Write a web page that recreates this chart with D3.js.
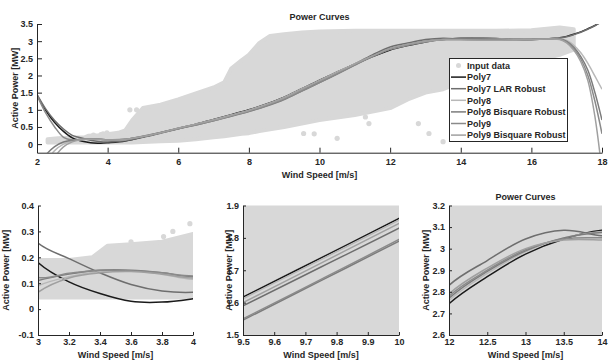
<!DOCTYPE html>
<html>
<head>
<meta charset="utf-8">
<script src="https://cdn.jsdelivr.net/npm/d3@7"></script>
<style>
  body { margin: 0; background: #fff; }
  svg text { font-family: "Liberation Sans", Arial, Helvetica, sans-serif; font-weight: bold; font-size: 9px; fill: #262626; }
</style>
</head>
<body>
<svg id="chart" width="609" height="361"></svg>
<script>
// wind speed grid the fitted curves are read at
const fitSpeed = [2, 2.25, 2.5, 2.75, 3, 3.2, 3.4, 3.6, 3.8, 4, 4.5, 5, 5.5, 6, 6.5, 7, 7.5, 8, 8.5, 9,
  9.5, 9.75, 10, 10.5, 11, 11.5, 12, 12.5, 13, 13.5, 14, 14.5, 15, 15.5, 16, 16.5, 16.8, 17, 17.2, 17.4, 17.6, 17.8, 18];

const poly7 = [1.43, 0.98, 0.63, 0.37, 0.18, 0.105, 0.06, 0.03, 0.027, 0.04, 0.09, 0.21, 0.33, 0.46, 0.58, 0.72, 0.86, 1.0, 1.17, 1.37,
  1.617, 1.738, 1.86, 2.1, 2.33, 2.55, 2.745, 2.87, 2.975, 3.045, 3.085, 3.09, 3.08, 3.06, 3.05, 3.07, 3.1, 3.14, 3.2, 3.27, 3.36, 3.46, 3.58];
const poly7Lar = [1.45, 1.02, 0.69, 0.44, 0.255, 0.195, 0.14, 0.095, 0.07, 0.065, 0.1, 0.2, 0.32, 0.45, 0.57, 0.7, 0.84, 0.98, 1.15, 1.35,
  1.59, 1.71, 1.83, 2.08, 2.34, 2.6, 2.83, 2.945, 3.045, 3.085, 3.06, 3.05, 3.05, 3.05, 3.05, 3.07, 3.09, 3.13, 3.19, 3.26, 3.35, 3.45, 3.57];
const poly8 = [-1.1, -0.55, -0.19, 0.0, 0.09, 0.125, 0.145, 0.148, 0.135, 0.115, 0.13, 0.23, 0.34, 0.46, 0.58, 0.71, 0.85, 0.99, 1.16, 1.36,
  1.612, 1.733, 1.855, 2.1, 2.34, 2.56, 2.76, 2.885, 2.985, 3.05, 3.08, 3.085, 3.075, 3.06, 3.05, 3.07, 3.08, 3.02, 2.88, 2.66, 2.35, 1.98, 1.6];
const poly8Bisq = [-0.75, -0.32, -0.07, 0.06, 0.11, 0.135, 0.15, 0.15, 0.14, 0.125, 0.14, 0.23, 0.34, 0.45, 0.56, 0.68, 0.81, 0.95, 1.11, 1.3,
  1.546, 1.668, 1.79, 2.04, 2.3, 2.55, 2.77, 2.895, 2.99, 3.05, 3.075, 3.07, 3.06, 3.05, 3.05, 3.07, 3.07, 2.99, 2.82, 2.55, 2.15, 1.5, 0.7];
const poly9 = [1.42, 0.9, 0.5, 0.2, 0.122, 0.138, 0.15, 0.148, 0.14, 0.128, 0.14, 0.22, 0.33, 0.45, 0.56, 0.68, 0.82, 0.96, 1.12, 1.31,
  1.55, 1.672, 1.795, 2.05, 2.31, 2.56, 2.78, 2.9, 2.995, 3.045, 3.05, 3.04, 3.03, 3.04, 3.05, 3.07, 3.06, 2.97, 2.78, 2.48, 2.0, 1.25, 0.3];
const poly9Bisq = [-1.5, -0.85, -0.38, -0.08, 0.065, 0.12, 0.14, 0.145, 0.135, 0.12, 0.135, 0.22, 0.33, 0.46, 0.58, 0.7, 0.84, 0.98, 1.15, 1.35,
  1.6, 1.722, 1.845, 2.09, 2.33, 2.57, 2.79, 2.91, 3.0, 3.04, 3.04, 3.03, 3.03, 3.04, 3.05, 3.06, 3.05, 2.95, 2.74, 2.4, 1.85, 0.8, -0.8];

// input data cloud: lower / upper edge of the dense scatter
const cloudSpeed = [2.3, 2.6, 3.0, 3.2, 3.35, 3.45, 3.6, 3.8, 4.0, 4.3, 4.5, 4.7, 5.0, 5.5, 6.0, 6.5, 7.0, 7.3, 7.5, 7.8,
  8.0, 8.3, 8.6, 9.0, 9.5, 10, 11, 12, 12.5, 13, 13.5, 14, 15, 16, 16.8, 17.2];
const cloudLow = [0.05, 0.045, 0.045, 0.045, 0.045, 0.045, 0.045, 0.045, 0.045, 0.045, 0.05, 0.05, 0.06, 0.08, 0.1, 0.14, 0.2, 0.23, 0.26, 0.3,
  0.32, 0.38, 0.43, 0.5, 0.6, 0.7, 0.85, 1.05, 1.3, 1.5, 1.6, 1.8, 2.1, 2.4, 2.6, 2.75];
const cloudHigh = [0.14, 0.17, 0.19, 0.19, 0.2, 0.245, 0.25, 0.26, 0.29, 0.33, 0.4, 0.7, 1.05, 1.15, 1.3, 1.48, 1.65, 1.8, 2.2, 2.45,
  2.6, 2.95, 3.15, 3.2, 3.25, 3.28, 3.3, 3.3, 3.3, 3.3, 3.3, 3.3, 3.3, 3.32, 3.4, 3.35];
// isolated points outside the cloud
const outlierSpeed = [4.63, 4.82, 9.55, 9.85, 10.5, 11.3, 11.4, 12.8, 13.1, 13.5, 3.81, 3.87, 3.98, 4.0, 3.6];
const outlierPower = [1.0, 1.0, 0.31, 0.3, 0.17, 0.79, 0.6, 0.6, 0.31, 0.07, 0.28, 0.3, 0.33, 0.255, 0.26];

const fitNames = ['Poly7', 'Poly7 LAR Robust', 'Poly8', 'Poly8 Bisquare Robust', 'Poly9', 'Poly9 Bisquare Robust'];
const fits = [poly7, poly7Lar, poly8, poly8Bisq, poly9, poly9Bisq];
const fitColors = ['#1a1a1a', '#6e6e6e', '#b8b8b8', '#7c7c7c', '#8a8a8a', '#a0a0a0'];
const dotColor = '#d8d8d8';
const axisColor = '#262626';

// tick labels for each panel
const mainXTicks = [2, 4, 6, 8, 10, 12, 14, 16, 18];
const mainYTicks = [0, 0.5, 1, 1.5, 2, 2.5, 3, 3.5];
const lowXTicks = [3, 3.2, 3.4, 3.6, 3.8, 4];
const lowYTicks = [-0.1, 0, 0.1, 0.2, 0.3, 0.4];
const midXTicks = [9.5, 9.6, 9.7, 9.8, 9.9, 10];
const midYTicks = [1.5, 1.6, 1.7, 1.8, 1.9];
const highXTicks = [12, 12.5, 13, 13.5, 14];
const highYTicks = [2.6, 2.7, 2.8, 2.9, 3, 3.1, 3.2];

const svg = d3.select('#chart');

function drawPanel(p) {
  const x = d3.scaleLinear().domain(p.xDomain).range([p.left, p.right]);
  const y = d3.scaleLinear().domain(p.yDomain).range([p.bottom, p.top]);
  const g = svg.append('g');

  g.append('clipPath')
    .attr('id', 'clip' + p.id)
    .append('rect')
    .attr('x', p.left)
    .attr('y', p.top)
    .attr('width', p.right - p.left)
    .attr('height', p.bottom - p.top);

  const plot = g.append('g').attr('clip-path', `url(#clip${p.id})`);

  // scatter cloud
  const cloud = d3.area()
    .x(i => x(cloudSpeed[i]))
    .y0(i => y(cloudLow[i]))
    .y1(i => y(cloudHigh[i]));
  plot.append('path')
    .attr('d', cloud(d3.range(cloudSpeed.length)))
    .style('fill', dotColor)
    .style('stroke', dotColor)
    .style('stroke-width', 4)
    .style('stroke-linejoin', 'round');

  plot.selectAll('.outlier')
    .data(d3.range(outlierSpeed.length))
    .enter()
    .append('circle')
    .attr('cx', i => x(outlierSpeed[i]))
    .attr('cy', i => y(outlierPower[i]))
    .attr('r', 2.6)
    .style('fill', dotColor);

  // fitted curves
  const line = d3.line()
    .x((d, i) => x(fitSpeed[i]))
    .y(d => y(d))
    .curve(d3.curveCatmullRom.alpha(0.5));
  plot.selectAll('.fit')
    .data(fits)
    .enter()
    .append('path')
    .attr('d', line)
    .style('fill', 'none')
    .style('stroke', (d, i) => fitColors[i])
    .style('stroke-width', 1.5);

  const xAxis = d3.axisBottom(x).tickValues(p.xTicks).tickFormat(d => String(d))
    .tickSize(-p.tick).tickSizeOuter(0).tickPadding(p.xPad);
  const yAxis = d3.axisLeft(y).tickValues(p.yTicks).tickFormat(d => String(d))
    .tickSize(-p.tick).tickSizeOuter(0).tickPadding(4);

  g.append('g')
    .attr('transform', 'translate(0,' + p.bottom + ')')
    .attr('color', axisColor)
    .call(xAxis);
  g.append('g')
    .attr('transform', 'translate(' + p.left + ',0)')
    .attr('color', axisColor)
    .call(yAxis);

  g.append('text')
    .attr('x', (p.left + p.right) / 2)
    .attr('y', p.xLabelY)
    .attr('text-anchor', 'middle')
    .text('Wind Speed [m/s]');

  g.append('text')
    .attr('transform', `translate(${p.yLabelX},${(p.top + p.bottom) / 2}) rotate(-90)`)
    .attr('text-anchor', 'middle')
    .text('Active Power [MW]');

  if (p.titleY) {
    g.append('text')
      .attr('x', (p.left + p.right) / 2)
      .attr('y', p.titleY)
      .attr('text-anchor', 'middle')
      .text('Power Curves');
  }
}

drawPanel({
  id: 'main', xDomain: [2, 18], yDomain: [-0.25, 3.5],
  left: 37, right: 602, top: 24, bottom: 152.7,
  xTicks: mainXTicks, yTicks: mainYTicks, tick: 5, xPad: 6,
  xLabelY: 178, yLabelX: 18, titleY: 20
});
drawPanel({
  id: 'low', xDomain: [3, 4], yDomain: [-0.1, 0.4],
  left: 38, right: 193, top: 205.5, bottom: 335,
  xTicks: lowXTicks, yTicks: lowYTicks, tick: 3, xPad: 4,
  xLabelY: 358, yLabelX: 8.5
});
drawPanel({
  id: 'mid', xDomain: [9.5, 10], yDomain: [1.5, 1.9],
  left: 243, right: 399, top: 205.5, bottom: 335,
  xTicks: midXTicks, yTicks: midYTicks, tick: 3, xPad: 4,
  xLabelY: 358, yLabelX: 232
});
drawPanel({
  id: 'high', xDomain: [12, 14], yDomain: [2.6, 3.2],
  left: 449, right: 602, top: 205.5, bottom: 335,
  xTicks: highXTicks, yTicks: highYTicks, tick: 3, xPad: 4,
  xLabelY: 358, yLabelX: 428.5, titleY: 200
});

// legend of the main panel
const legend = svg.append('g');
legend.append('rect')
  .attr('x', 449.5)
  .attr('y', 58.5)
  .attr('width', 118)
  .attr('height', 83)
  .style('fill', '#fff')
  .style('stroke', axisColor)
  .style('stroke-width', 1);

const legendNames = ['Input data'].concat(fitNames);
const rowY = i => 65.5 + i * 11.6;

legend.append('circle')
  .attr('cx', 458.5)
  .attr('cy', rowY(0))
  .attr('r', 2.5)
  .style('fill', dotColor);

legend.selectAll('.key')
  .data(fitColors)
  .enter()
  .append('line')
  .attr('x1', 451)
  .attr('x2', 466)
  .attr('y1', (d, i) => rowY(i + 1))
  .attr('y2', (d, i) => rowY(i + 1))
  .style('stroke', d => d)
  .style('stroke-width', 1.5);

legend.selectAll('.label')
  .data(legendNames)
  .enter()
  .append('text')
  .attr('x', 467)
  .attr('y', (d, i) => rowY(i) + 3.2)
  .text(d => d);
</script>
</body>
</html>
